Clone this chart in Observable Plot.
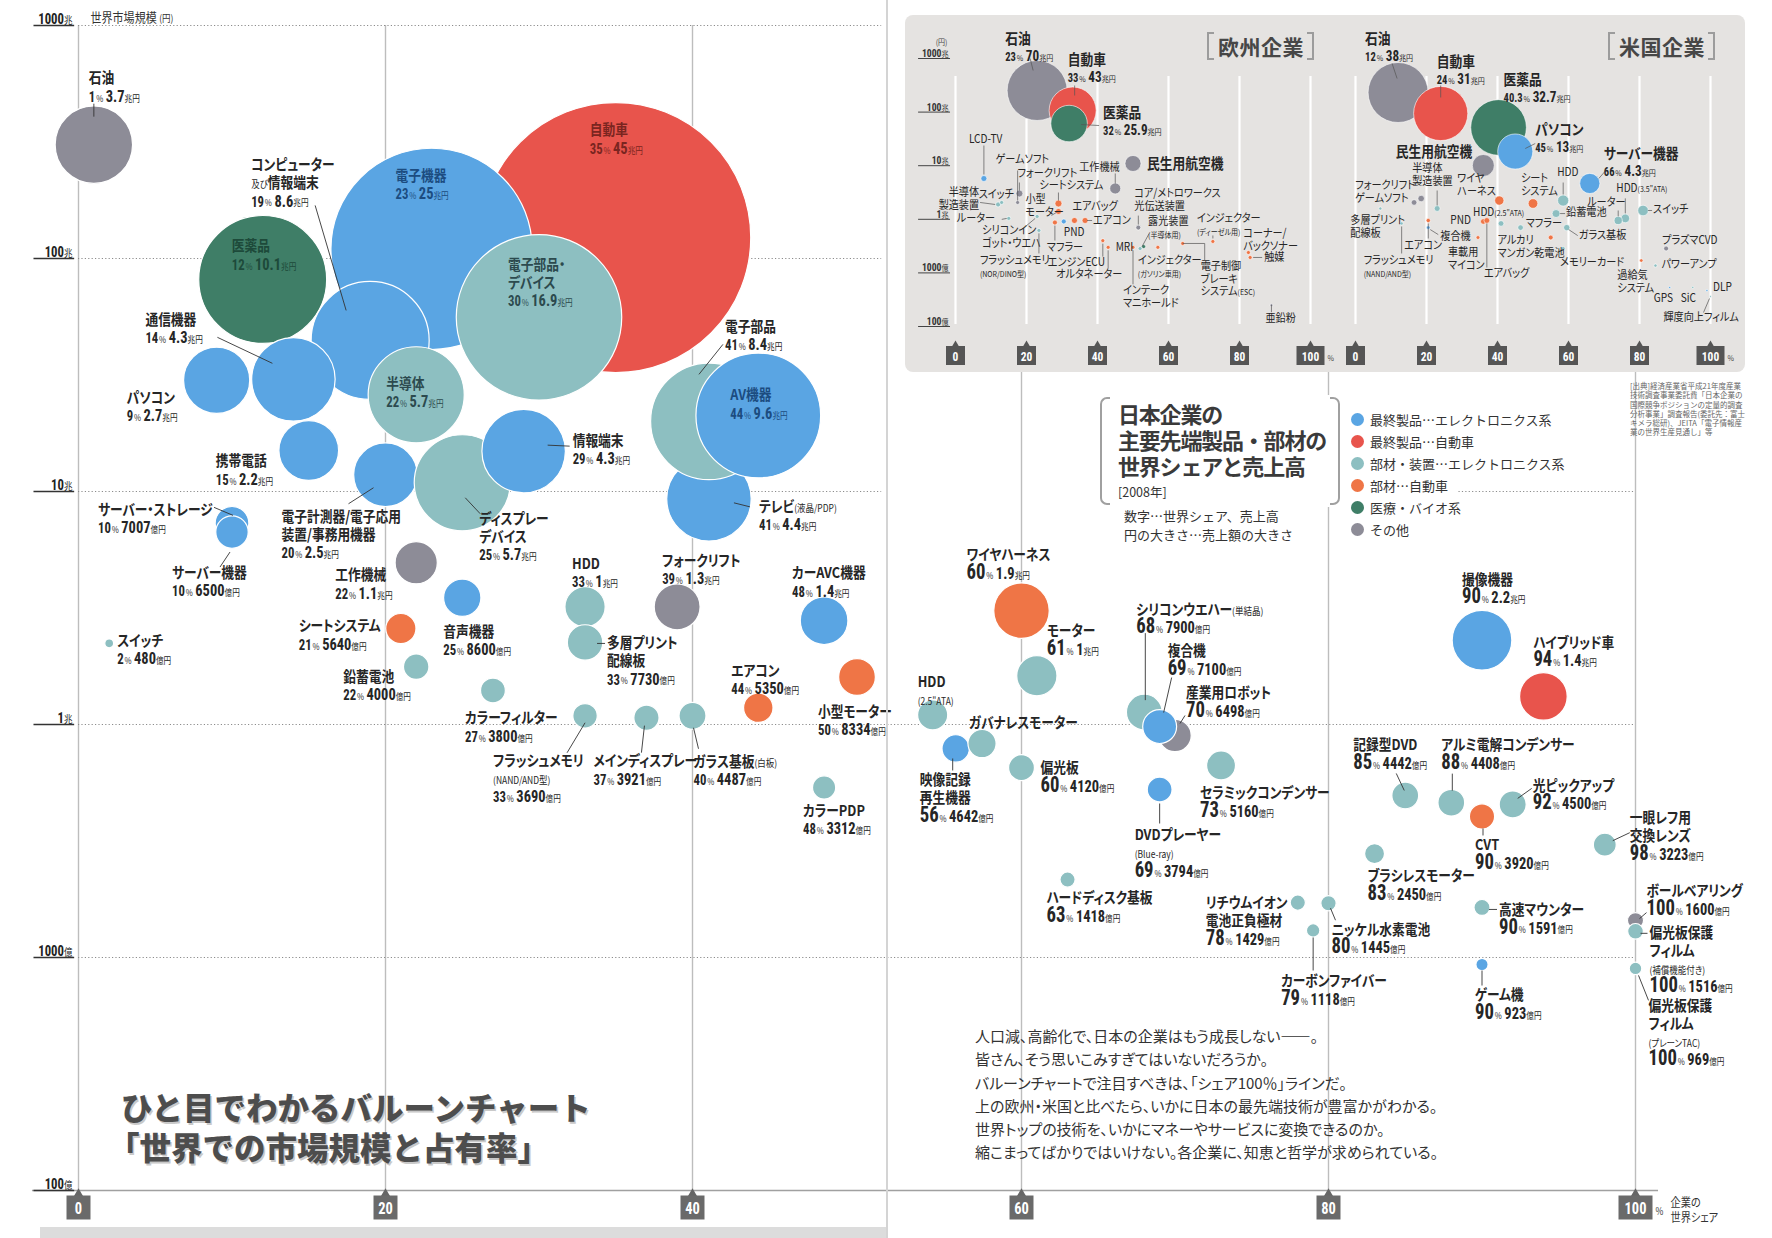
<!DOCTYPE html>
<html lang="ja">
<head>
<meta charset="utf-8">
<script src="https://cdn.jsdelivr.net/npm/d3@7"></script>
<script src="https://cdn.jsdelivr.net/npm/@observablehq/plot@0.6"></script>
<style>
html,body{margin:0;padding:0;background:#fff;}
#wrap{position:relative;width:1772px;height:1238px;overflow:hidden;background:#fff;font-family:"Noto Sans CJK JP","Noto Sans",sans-serif;color:#333;}
.abs{position:absolute;}
#fold{left:886px;top:0;width:2px;height:1238px;background:#d4d4d4;}
#strip{left:40px;top:1227px;width:846px;height:11px;background:#dcdcdc;}
#insetbg{left:905px;top:15px;width:840px;height:357px;background:#e5e3e1;border-radius:8px;}
.hdr{display:flex;align-items:center;font-size:21px;font-weight:700;color:#474747;height:26px;letter-spacing:0.5px;}
.hdr .bl{display:inline-block;width:5px;height:24px;border:2px solid #9c9c9c;border-right:none;margin-right:4px;}
.hdr .br{display:inline-block;width:5px;height:24px;border:2px solid #9c9c9c;border-left:none;margin-left:3px;}
#tbox{left:1097px;top:395px;width:246px;height:112px;background:#fff;}
#tbox .brk{position:absolute;top:2px;width:8px;height:104px;border:2px solid #a0a0a0;}
#tbox .l{left:3px;border-right:none;border-radius:7px 0 0 7px;}
#tbox .r{right:3px;border-left:none;border-radius:0 7px 7px 0;}
#tbox .tt{position:absolute;left:21px;top:5px;font-size:22px;font-weight:700;line-height:26px;color:#3a3a3a;letter-spacing:-1.2px;white-space:nowrap;}
#tbox .yr{position:absolute;left:21px;top:87px;font-size:12.5px;color:#333;}
#tsub{left:1124px;top:506px;font-size:13px;line-height:19px;color:#333;white-space:nowrap;}
#legend{left:1351px;top:408px;}
#legend .it{display:flex;align-items:center;height:22px;font-size:13px;color:#333;white-space:nowrap;}
#legend .dt{display:inline-block;width:13px;height:13px;border-radius:50%;margin-right:6px;}
#source{left:1630px;top:381px;width:118px;font-size:7.5px;line-height:9.3px;color:#666;}
#title{left:121px;top:1086px;font-size:31.5px;font-weight:900;color:#4d4d4d;line-height:40px;letter-spacing:0px;text-shadow:1.5px 1.5px 0 #c9c9c9;white-space:nowrap;}
#title .l2{margin-left:-13px;}
#para{left:975px;top:1024px;font-size:15px;line-height:23.3px;color:#333;white-space:nowrap;font-feature-settings:"palt";}
</style>
</head>
<body>
<div id="wrap">
  <div id="mainHost" class="abs" style="left:0;top:0"></div>
  <div id="fold" class="abs"></div>
  <div id="strip" class="abs"></div>
  <div id="insetbg" class="abs"></div>
  <div id="euHost" class="abs" style="left:905px;top:15px"></div>
  <div id="usHost" class="abs" style="left:1330px;top:15px"></div>
  <div class="abs hdr" style="left:1207px;top:33px"><span class="bl"></span>欧州企業<span class="br"></span></div>
  <div class="abs hdr" style="left:1608px;top:33px"><span class="bl"></span>米国企業<span class="br"></span></div>
  <div id="tbox" class="abs"><div class="brk l"></div><div class="brk r"></div>
    <div class="tt">日本企業の<br>主要先端製品・部材の<br>世界シェアと売上高</div>
    <div class="yr">[2008年]</div></div>
  <div id="tsub" class="abs">数字…世界シェア、売上高<br>円の大きさ…売上額の大きさ</div>
  <div id="legend" class="abs"></div>
  <div id="source" class="abs">[出典]経済産業省平成21年度産業技術調査事業委託費「日本企業の国際競争ポジションの定量的調査分析事業」調査報告(委託先：富士キメラ総研)、JEITA「電子情報産業の世界生産見通し」等</div>
  <div id="title" class="abs">ひと目でわかるバルーンチャート<br><span class="l2">「世界での市場規模と占有率」</span></div>
  <div id="para" class="abs">人口減、高齢化で、日本の企業はもう成長しない——。<br>皆さん、そう思いこみすぎてはいないだろうか。<br>バルーンチャートで注目すべきは、「シェア100％」ラインだ。<br>上の欧州・米国と比べたら、いかに日本の最先端技術が豊富かがわかる。<br>世界トップの技術を、いかにマネーやサービスに変換できるのか。<br>縮こまってばかりではいけない。各企業に、知恵と哲学が求められている。</div>
</div>
<script>
// ---------------- DATA: main chart (Japanese companies) ----------------
// sales and market in 億円; market = world market size
const names = ["自動車","電子機器","テレビ(液晶/PDP)","電子部品","AV機器","医薬品","コンピューター\n及び情報端末","電子部品・\nデバイス","通信機器","パソコン","半導体","携帯電話","電子計測器/電子応用\n装置/事務用機器","ディスプレー\nデバイス","情報端末","石油","サーバー・ストレージ","サーバー機器","工作機械","シートシステム","鉛蓄電池","音声機器","HDD","多層プリント\n配線板","フォークリフト","カーAVC機器","カラーフィルター","フラッシュメモリ\n(NAND/AND型)","メインディスプレー","ガラス基板(白板)","エアコン","小型モーター","カラーPDP","スイッチ","ワイヤハーネス","モーター","HDD\n(2.5\"ATA)","映像記録\n再生機器","ガバナレスモーター","偏光板","シリコンウエハー(単結晶)","産業用ロボット","複合機","セラミックコンデンサー","DVDプレーヤー\n(Blue-ray)","ハードディスク基板","リチウムイオン\n電池正負極材","ニッケル水素電池","カーボンファイバー","撮像機器","ハイブリッド車","記録型DVD","アルミ電解コンデンサー","CVT","光ピックアップ","一眼レフ用\n交換レンズ","ブラシレスモーター","高速マウンター","ボールベアリング","偏光板保護\nフィルム\n(補償機能付き)","ゲーム機","偏光板保護\nフィルム\n(プレーンTAC)"];
const shares = [35,23,41,41,44,12,19,30,14,9,22,15,20,25,29,1,10,10,22,21,22,25,33,33,39,48,27,33,37,40,44,50,48,2,60,61,54.6,56,57.6,60,68,70,69,73,69,63,78,80,79,90,94,85,88,90,92,98,83,90,100,100,90,100];
const sales = [450000,250000,44000,84000,96000,101000,86000,169000,43000,27000,57000,22000,25000,57000,43000,37000,7007,6500,11000,5640,4000,8600,10000,7730,13000,14000,3800,3690,3921,4487,5350,8334,3312,480,19000,10000,5600,4642,4900,4120,7900,6498,7100,5160,3794,1418,1429,1445,1118,22000,14000,4442,4408,3920,4500,3223,2450,1591,1600,1516,923,969];
const markets = [1230000,1100000,93000,200000,212000,813000,445000,559000,303000,300000,260000,150000,118000,109000,149000,3080000,73000,67000,49500,25800,17700,35000,32000,22500,32000,27900,14000,10900,10700,10900,11800,16000,5370,22300,30800,16200,11000,7890,8280,6530,11300,8970,9800,6670,5260,2160,1720,1710,1306,23000,13200,4960,4620,4030,4540,3050,2790,1640,1440,1295,933,898];
const cats = ["car","elec","elec","parts","elec","bio","elec","parts","elec","elec","parts","elec","elec","parts","elec","other","elec","elec","other","carparts","parts","elec","parts","parts","other","elec","parts","parts","parts","parts","carparts","carparts","parts","parts","carparts","parts","parts","elec","parts","parts","parts","other","elec","parts","elec","parts","parts","parts","parts","elec","car","parts","parts","carparts","parts","parts","parts","parts","other","parts","elec","parts"];
const noValue = new Set([36, 38]);

// ---------------- DATA: inset Europe ----------------
const euNames = ["石油","自動車","医薬品","民生用航空機","工作機械","LCD-TV","半導体\n製造装置","スイッチ","ゲームソフト","フォークリフト","小型\nモーター","シートシステム","エアバッグ","エアコン","PND","マフラー","ルーター","シリコンイン\nゴット・ウエハ","フラッシュメモリ\n(NOR/DINO型)","エンジンECU","オルタネーター","コア/メトロワークス\n光伝送装置","露光装置\n(半導体用)","MRI","インジェクター\n(ガソリン車用)","インテーク\nマニホールド","インジェクター\n(ディーゼル用)","電子制御\nブレーキ\nシステム(ESC)","コーナー/\nバックソナー","触媒","亜鉛粉"];
const euShares = [23,33,32,50,45,8,12,13,17.5,18,29,29,33.5,36.5,30.5,28,15,23,23.5,41.5,43,51.5,52,53,57,50,72.5,64,82.5,83,89];
const euSales = [700000,430000,259000,50000,23500,7000,4800,3100,3100,9500,7000,9500,7000,7000,4800,4800,3100,3100,3100,3100,3100,4800,3100,3100,3100,3100,3100,3100,3100,3100,1500];
const euMarkets = [2530000,1070000,612000,110000,37600,57700,18900,20600,20600,30300,14000,19700,9500,9500,9100,8700,10400,11300,6200,4000,3000,7000,2850,3100,3000,3000,3860,3540,2400,1940,250];
const euCats = ["other","car","bio","other","other","elec","parts","parts","other","other","carparts","carparts","carparts","carparts","elec","carparts","parts","parts","parts","carparts","carparts","other","parts","bio","carparts","carparts","carparts","carparts","carparts","carparts","other"];
const euValued = new Set(["石油","自動車","医薬品"]);

// ---------------- DATA: inset USA ----------------
const usNames = ["石油","自動車","医薬品","パソコン","民生用航空機","サーバー機器","HDD","HDD(3.5\"ATA)","ルーター","スイッチ","鉛蓄電池","ガラス基板","メモリーカード","シート\nシステム","マフラー","アルカリ\nマンガン乾電池","HDD(2.5\"ATA)","ワイヤ\nハーネス","PND","車載用\nマイコン","エアバッグ","複合機","エアコン","半導体\n製造装置","フォークリフト","ゲームソフト","多層プリント\n配線板","フラッシュメモリ\n(NAND/AND型)","プラズマCVD","パワーアンプ","過給気\nシステム","GPS","SiC","DLP","輝度向上フィルム"];
const usShares = [12,24,40.3,45,36,66,58.5,76,74,81,56.5,59.5,58.5,50,55,46.5,41,40.5,36,34.5,37,20.5,20.5,23,18.5,16.5,7,13,87.5,84.5,80.5,88.5,95,99,100];
const usSales = [380000,310000,327000,130000,51000,43000,13100,7900,7000,11700,6700,4200,1670,9800,2500,3270,3410,9000,3260,1570,3530,1450,1930,3620,4470,3360,1080,1090,2490,1160,1370,470,510,466,363];
const usMarkets = [2320000,942000,517000,184000,101000,46600,22400,10400,9500,14600,12800,7000,2850,19700,4570,7000,8360,22400,9100,4570,9500,7000,9500,15900,24400,20600,15900,8360,2850,1370,1700,535,535,470,363];
const usCats = ["other","car","bio","elec","other","elec","parts","parts","parts","parts","parts","parts","parts","carparts","carparts","parts","parts","carparts","carparts","carparts","carparts","elec","carparts","parts","other","other","parts","parts","other","parts","carparts","elec","parts","elec","parts"];
const usValued = new Set(["石油","自動車","医薬品","パソコン","サーバー機器"]);

// ---------------- axis ticks & legend ----------------
const xTicks = [0,20,40,60,80,100];
const yTickVals = [1e7,1e6,1e5,1e4,1e3,100];
const yTickLabels = ["1000兆","100兆","10兆","1兆","1000億","100億"];
const legendKeys = ["elec","car","parts","carparts","bio","other"];
const legendLabels = ["最終製品…エレクトロニクス系","最終製品…自動車","部材・装置…エレクトロニクス系","部材…自動車","医療・バイオ系","その他"];

// ---------------- styling / layout (not data) ----------------
const catColor = {elec:"#5aa5e3", car:"#e8544c", parts:"#8dbfc1", carparts:"#ef7546", bio:"#3f7e67", other:"#8d8c97"};
const insideColor = {elec:"#1c4c80", car:"#7a2520", bio:"#1d4a3a", parts:"#2c4a4e", carparts:"#6a2a10", other:"#333"};
const NUMF = "'Roboto Condensed','Liberation Sans Narrow','DejaVu Sans Condensed','Arial Narrow',Roboto,sans-serif";
const JPF = "'Noto Sans CJK JP','Noto Sans',sans-serif";
const mainLayout = [
 [-26,-115],[-36,-81],[50,0,[41,8,25,4]],[16,-102,[14,-77,-10,-47]],[-28,-28],[-31,-41],
 [-119,-183,[-55,-135,-24,-30]],[-31,-60],[-148,-67,[-76,-42,-21,-16]],[-90,10],[-30,-19],[-93,3],
 [-104,34,[-37,29,-12,13]],[17,28,[18,31,3,15]],[49,-18,[46,-5,24,-6]],[-5,-74,[0,-41,0,-28]],
 [-134,-21,[-18,-16,1,-8]],[-60,33,[-12,35,-2,20]],[-81,5],[-102,-10],[-73,2],[-19,26],[-13,-51],
 [22,-7,[20,1,12,1]],[-15,-54],[-32,-55],[-28,20],[-92,37,[-18,37,0,7]],[-53,36,[-5,35,-2,8]],
 [1,38,[6,33,1,12]],[-27,-45],[-39,27],[-21,16],[8,-10],[-55,-63],[10,-52],[-15,-41],
 [-36,24,[-3,22,-3,10]],[-13,-28],[19,-7],[-8,-110,[1,-79,1,-12]],[11,-50,[10,-20,5,-12]],
 [8,-83,[12,-49,4,-14]],[-21,20],[-25,38,[0,34,0,14]],[-21,11],[-92,-7],[3,19,[7,17,2,5]],
 [-32,43,[0,7,0,40]],[-20,-68],[-10,-61],[-52,-58,[-9,-22,-1,-5]],[-10,-65,[1,-29,1,-12]],
 [-7,21,[1,12,1,19]],[20,-26,[19,-16,5,-6]],[25,-34,[25,-12,8,-4]],[-7,15],[17,-5,[15,2,7,2]],
 [11,-37,[11,-8,4,-2]],[14,-6,[12,2,5,2]],[-7,23,[0,6,0,21]],[13,30,[13,32,3,7]]
];
const insideSet = new Set([0,1,4,5,7,10]);
const euLayout = [
 [-32,-58,[-7,-32,-4,-20]],[-5,-57,[2,-25,2,-15]],[34,-17,[30,2,12,1]],[14,-6],[-36,-26,[0,-15,0,-5]],
 [-15,-44,[0,-33,0,-4]],[-19,-17,[-18,-2,-3,0],"end"],[-23,-13],[-22,-48,[0,-32,0,-2]],[-2,-25,[0,-11,0,-3]],
 [-33,-17,[-7,4,-2,1]],[-19,-23,[0,-11,0,-3]],[-2,-19],[8,-5,[2,0,7,0]],[0,6],[-8,20,[0,18,0,3]],
 [-52,-5,[-7,1,-2,0]],[-55,9,[-14,12,-2,2]],[-59,25,[0,23,0,3]],[-55,16,[0,16,0,3]],[-52,22,[0,21,0,3]],
 [-4,-39,[0,-12,0,-3]],[8,-32,[9,-15,2,-2]],[-28,-4],[-20,8],[-10,38,[0,37,0,3]],[-16,-28,[0,-6,0,-3]],
 [18,18,[[0,0,22,0],[22,0,22,17]]],[-5,-24],[14,-5,[3,0,12,0]],[-6,8,[0,0,0,7]]
];
const usLayout = [
 [-33,-60,[-6,-29,-1,-14]],[-4,-58,[0,-28,0,-16]],[5,-54],[20,-28,[20,-8,10,-3]],[-11,-20,"end"],
 [14,-36,[16,-13,9,-5]],[-6,-33,[0,-18,0,-6]],[-9,-35,[0,-20,0,-5]],[-31,-23,[0,-10,0,-4]],[10,-6,[5,0,9,0]],
 [10,-6,[4,0,9,0]],[12,3,[2,2,11,8]],[-3,9],[-12,-30],[-25,-19],[-23,8],[-28,-16],[-42,-27],[-33,-6],
 [-30,10],[-3,48,[0,3,0,47]],[12,4,[2,2,10,7]],[-24,20,[0,3,0,18]],[-25,-45,[0,-18,0,-3]],[-66,-18],
 [-59,-9],[-30,7],[-38,32,[0,3,0,30]],[-4,-13],[6,-6],[-24,10],[-16,6],[-12,6],[6,-8],[-47,16,[-7,16,-1,2]]
];

const SVGNS = "http://www.w3.org/2000/svg";
const box24 = {draw(ctx){ ctx.rect(-12,-12,24,24); }};
const box34 = {draw(ctx){ ctx.rect(-17,-12,34,24); }};
const box19 = {draw(ctx){ ctx.rect(-9.5,-9.5,19,19); }};
const box27 = {draw(ctx){ ctx.rect(-14,-9.5,28,19); }};

function fmtSales(v){ return v >= 10000 ? (v/10000) + "兆円" : v + "億円"; }
function rowsOf(nm, sh, sa, mk, ct, hasValue){
  return nm.map((name,i)=>({name, share: sh[i], sales: sa[i], market: mk[i], cat: ct[i],
    value: hasValue(name,i) ? `${sh[i]}% ${fmtSales(sa[i])}` : null}));
}

function labelMarks(rows, layout, xs, ys, o){
  const marks = [], segs = [];
  rows.forEach((d,i)=>{
    const L = layout[i]; if (!L) return;
    const dx = L[0], dy = L[1];
    let leaders = L.slice(2).find(v => Array.isArray(v)) || null;
    if (leaders && typeof leaders[0] === "number") leaders = [leaders];
    const anchor = L.slice(2).find(v => typeof v === "string") || "start";
    const big = o.bigSet ? o.bigSet.has(d.name) : false;
    const fs = big ? o.bigSize : o.nameSize;
    const lh = big ? o.bigLine : o.lineH;
    const inside = o.insideSet ? o.insideSet.has(i) : false;
    const fill = inside ? insideColor[d.cat] : "#262626";
    marks.push(Plot.text([d], {x:"share", y:"market", text:"name", dx, dy, textAnchor:anchor, lineAnchor:"top",
      fontSize:fs, lineHeight: lh/fs, fill, fontWeight: big ? "bold" : o.weight}));
    if (d.value){
      const n = d.name.split("\n").length;
      marks.push(Plot.text([d], {x:"share", y:"market", text:"value", dx, dy: dy + n*lh + 1, textAnchor:anchor,
        lineAnchor:"top", fontSize:o.valueSize, fill, fontWeight:"bold"}));
    }
    if (leaders){
      const x0 = xs.apply(d.share), y0 = ys.apply(d.market);
      for (const [a,b,c,e] of leaders) segs.push({x1: xs.invert(x0+a), y1: ys.invert(y0+b), x2: xs.invert(x0+c), y2: ys.invert(y0+e)});
    }
  });
  marks.push(Plot.link(segs, {x1:"x1", y1:"y1", x2:"x2", y2:"y2", stroke:o.leaderColor, strokeWidth:o.leaderWidth}));
  return marks;
}

function addT(el, s, attrs){
  const t = document.createElementNS(SVGNS, "tspan");
  t.textContent = s;
  for (const k in attrs) t.setAttribute(k, attrs[k]);
  el.appendChild(t);
}
function restyle(el, o){
  const s = el.textContent;
  let m;
  if ((m = s.match(/^([\d.]+)%\s([\d.]+)(兆円|億円)$/))){
    const big = +m[1] >= o.bigAt;
    el.textContent = "";
    addT(el, m[1], {"font-size": big ? o.shareBig : o.share, "font-family": NUMF, "font-weight":"bold", "font-stretch":"condensed"});
    addT(el, "%", {"font-size": o.unit, "font-weight":"normal", "dx": 1});
    addT(el, m[2], {"font-size": o.num, "font-family": NUMF, "font-weight":"bold", "font-stretch":"condensed", "dx": 3});
    addT(el, m[3], {"font-size": o.unit, "font-weight":"normal"});
  } else if ((m = s.match(/^(\d+)(兆|億)$/))){
    el.textContent = "";
    addT(el, m[1], {"font-size": o.tick, "font-family": NUMF, "font-weight":"bold"});
    addT(el, m[2], {"font-size": o.tickUnit, "font-weight":"normal"});
  } else if (/\(|及び/.test(s)){
    const parts = s.split(/(\([^)]*\)|及び)/).filter(p => p);
    el.textContent = "";
    parts.forEach(p => addT(el, p, /^\(|^及び$/.test(p) ? {"font-size": o.small, "font-weight":"normal"} : {}));
  }
}
function styleTexts(svg, o){
  svg.querySelectorAll("text").forEach(t => {
    const tsp = Array.from(t.querySelectorAll("tspan"));
    (tsp.length ? tsp : [t]).forEach(el => restyle(el, o));
    // condensed look of the printed gothic: squeeze each label horizontally about its anchor
    const tr = t.getAttribute("transform");
    if (o.sx && tr) t.setAttribute("transform", tr + ` scale(${o.sx},1)`);
  });
  svg.style.fontFeatureSettings = '"palt"';
}

const YS = {type:"log", domain:[100,1e7], range:[1190,25]};

function buildMain(XS){
  const xs = Plot.scale({x: XS}), ys = Plot.scale({y: YS});
  const rows = rowsOf(names, shares, sales, markets, cats, (n,i)=>!noValue.has(i));
  const lab = labelMarks(rows, mainLayout, xs, ys, {nameSize:15, lineH:18, valueSize:17, weight:600,
    insideSet, leaderColor:"#333", leaderWidth:0.9});
  const hGrid = [
    {y:1e7,x1:0,x2:51.5},{y:1e6,x1:0,x2:51.5},{y:1e5,x1:0,x2:51.5},{y:1e5,x1:88.5,x2:100},
    {y:1e4,x1:0,x2:100},{y:1e3,x1:0,x2:100}
  ];
  return Plot.plot({
    width:1772, height:1238, margin:0,
    x:{...XS, axis:null}, y:{...YS, axis:null},
    r:{domain:[0,450000], range:[0,135]},
    color:{type:"identity"},
    style:{background:"transparent", fontFamily:JPF, overflow:"visible"},
    marks:[
      Plot.ruleX(xTicks, {x:d=>d, y1:100, y2:1e7, stroke:"#bdbdbd", strokeWidth:1.4}),
      Plot.ruleY(hGrid, {y:"y", x1:"x1", x2:"x2", stroke:"#8c8c8c", strokeWidth:1, strokeDasharray:"1.2,2.2"}),
      Plot.ruleY([100], {y:d=>d, x1:-3, x2:101.5, stroke:"#a0a0a0", strokeWidth:1.6}),
      Plot.dot(rows, {x:"share", y:"market", r:"sales", fill:d=>catColor[d.cat], stroke:"#fff", strokeWidth:1.2, sort:null}),
      ...lab,
      Plot.ruleY(yTickVals, {y:d=>d, x1:-2.9, x2:-0.25, stroke:"#333", strokeWidth:1.3}),
      Plot.text(yTickVals, {x:0, y:d=>d, text:(d,i)=>yTickLabels[i], dx:-6, dy:-2, textAnchor:"end", lineAnchor:"bottom", fontSize:15, fill:"#222"}),
      Plot.text(["世界市場規模 (円)"], {x:0, y:1e7, text:d=>d, dx:12, dy:-4, textAnchor:"start", lineAnchor:"bottom", fontSize:13, fill:"#333"}),
      Plot.dot(xTicks, {x:d=>d, y:100, dy:4, symbol:"triangle", r:4, fill:"#666"}),
      Plot.dot(xTicks.filter(v=>v<100), {x:d=>d, y:100, dy:17, symbol:box24, r:5, fill:"#6a6a6a"}),
      Plot.dot([100], {x:d=>d, y:100, dy:17, symbol:box34, r:5, fill:"#6a6a6a"}),
      Plot.text(xTicks, {x:d=>d, y:100, dy:18, text:d=>String(d), fill:"#fff", fontSize:17, fontWeight:"bold", fontFamily:NUMF}),
      Plot.text(["%"], {x:100, y:100, dx:20, dy:21, text:d=>d, fontSize:10, textAnchor:"start", fill:"#333"}),
      Plot.text(["企業の\n世界シェア"], {x:100, y:100, dx:35, dy:6, text:d=>d, fontSize:12, lineHeight:1.25, textAnchor:"start", lineAnchor:"top", fill:"#333"})
    ]
  });
}

function buildInset(rows, layout, rMax, xr, w, showY, bigSet){
  const XI = {domain:[0,100], range:xr};
  const YI = {type:"log", domain:[100,1e7], range:[311,43]};
  const xs = Plot.scale({x: XI}), ys = Plot.scale({y: YI});
  const lab = labelMarks(rows, layout, xs, ys, {nameSize:11.5, lineH:12.5, valueSize:15, weight:400,
    bigSet, bigSize:14.5, bigLine:16.5, leaderColor:"#555", leaderWidth:0.7});
  const marks = [
    Plot.ruleX(xTicks, {x:d=>d, y1:100, y2:1e7, stroke:"#fff", strokeWidth:2.2, insetBottom:-18, insetTop:-2}),
    Plot.dot(rows, {x:"share", y:"market", r:"sales", fill:d=>catColor[d.cat], stroke:"#fff", strokeWidth:0.6, sort:null}),
    ...lab,
    Plot.dot(xTicks, {x:d=>d, y:100, dy:18, symbol:"triangle", r:2.6, fill:"#555"}),
    Plot.dot(xTicks.filter(v=>v<100), {x:d=>d, y:100, dy:29, symbol:box19, r:5, fill:"#555"}),
    Plot.dot([100], {x:d=>d, y:100, dy:29, symbol:box27, r:5, fill:"#555"}),
    Plot.text(xTicks, {x:d=>d, y:100, dy:30, text:d=>String(d), fill:"#fff", fontSize:13, fontWeight:"bold", fontFamily:NUMF}),
    Plot.text(["%"], {x:100, y:100, dx:17, dy:32, text:d=>d, fontSize:8, textAnchor:"start", fill:"#444"})
  ];
  if (showY){
    marks.push(
      Plot.ruleY(yTickVals, {y:d=>d, x1:-10.4, x2:-1.4, stroke:"#444", strokeWidth:1}),
      Plot.text(yTickVals, {x:0, y:d=>d, text:(d,i)=>yTickLabels[i], dx:-7, dy:-1.5, textAnchor:"end", lineAnchor:"bottom", fontSize:11, fill:"#333"}),
      Plot.text(["(円)"], {x:0, y:1e7, text:d=>d, dx:-8, dy:-14, textAnchor:"end", lineAnchor:"bottom", fontSize:8, fill:"#444"})
    );
  }
  return Plot.plot({
    width:w, height:360, margin:0,
    x:{...XI, axis:null}, y:{...YI, axis:null},
    r:{domain:[0,rMax], range:[0,30]},
    color:{type:"identity"},
    style:{background:"transparent", fontFamily:JPF, overflow:"visible"},
    marks
  });
}

// ---------- render ----------
let mainSvg;
try { mainSvg = buildMain({type:"linear", domain:[0,40,60,100], range:[78,692,1021,1635]}); }
catch(e){ mainSvg = buildMain({domain:[0,100], range:[78,1635]}); }
styleTexts(mainSvg, {share:15, shareBig:22, num:17, unit:9, bigAt:55, tick:15, tickUnit:10, small:10, sx:0.85});
mainSvg.style.display = "block";
document.getElementById("mainHost").appendChild(mainSvg);

const euRows = rowsOf(euNames, euShares, euSales, euMarkets, euCats, n=>euValued.has(n));
const euSvg = buildInset(euRows, euLayout, 700000, [50,405], 425, true, new Set(["石油","自動車","医薬品","民生用航空機"]));
styleTexts(euSvg, {share:12, shareBig:12, num:15, unit:8, bigAt:999, tick:11, tickUnit:8, small:8, sx:0.88});
euSvg.style.display = "block";
document.getElementById("euHost").appendChild(euSvg);

const usRows = rowsOf(usNames, usShares, usSales, usMarkets, usCats, n=>usValued.has(n));
const usSvg = buildInset(usRows, usLayout, 380000, [25,380], 415, false, new Set(["石油","自動車","医薬品","パソコン","サーバー機器","民生用航空機"]));
styleTexts(usSvg, {share:12, shareBig:12, num:15, unit:8, bigAt:999, tick:11, tickUnit:8, small:8, sx:0.88});
usSvg.style.display = "block";
document.getElementById("usHost").appendChild(usSvg);

const lg = document.getElementById("legend");
legendKeys.forEach((k,i)=>{
  const it = document.createElement("div"); it.className = "it";
  const dt = document.createElement("span"); dt.className = "dt"; dt.style.background = catColor[k];
  it.appendChild(dt); it.appendChild(document.createTextNode(legendLabels[i]));
  lg.appendChild(it);
});
</script>
</body>
</html>
